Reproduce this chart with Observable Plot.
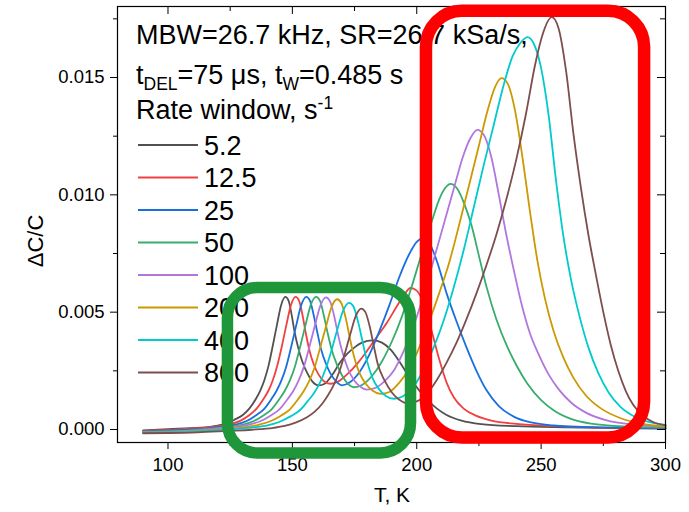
<!DOCTYPE html>
<html>
<head>
<meta charset="utf-8">
<script src="https://cdn.jsdelivr.net/npm/d3@7"></script>
<script src="https://cdn.jsdelivr.net/npm/@observablehq/plot@0.6"></script>
<style>
  body { margin: 0; background: #fff; }
  #chart { width: 689px; height: 512px; }
</style>
</head>
<body>
<div id="chart"></div>
<script>
// DLTS spectra ΔC/C(T) for eight rate windows (s^-1)
const rateWindows = ["5.2", "12.5", "25", "50", "100", "200", "400", "800"];
const lineColors = ["#515151", "#F14040", "#1A6FDF", "#37AD6B", "#B177DE", "#CC9900", "#00CBCC", "#7D4E4E"];

// [T (K), ΔC/C] samples per rate window
const rw5_2 = [[90,-0.00004],[100,0.00002],[107,0.00005],[113.2,0.00008],[120,0.00017],[123.4,0.00025],[126.8,0.00042],[130.2,0.00063],[132.75,0.0009],[135.3,0.0013],[137,0.00164],[138.7,0.00209],[140.4,0.00271],[142.1,0.00356],[143.8,0.00446],[145.5,0.00531],[147.2,0.00565],[148.5,0.00548],[149.75,0.00486],[151,0.0041],[152.3,0.0035],[154,0.0029],[156,0.0024],[158,0.00205],[160.6,0.00188],[163,0.00195],[166,0.00232],[169,0.00283],[172,0.00322],[175,0.0035],[178,0.0037],[182.3,0.0038],[186,0.0037],[189.5,0.0034],[193,0.0029],[196,0.0024],[200,0.0018],[204,0.00128],[208,0.0009],[212,0.00062],[218,0.00038],[226,0.00023],[240,0.00014],[260,0.00009],[280,0.00006],[300,0.00004]];
const rw12_5 = [[90,-0.00006],[100,-0.00002],[107,0.00003],[114.5,0.00007],[121.9,0.00016],[125.5,0.00024],[129.2,0.00038],[132.9,0.00063],[135.7,0.0009],[138.4,0.0013],[140.3,0.00164],[142.1,0.00209],[143.9,0.00271],[145.8,0.00356],[147.6,0.00446],[149.46,0.00531],[151.3,0.00565],[152.7,0.00548],[154.1,0.00486],[155.4,0.0041],[156.8,0.0034],[158.5,0.0028],[160.5,0.00235],[162.8,0.00205],[165.5,0.00195],[168.5,0.00205],[172,0.00235],[176,0.0028],[180,0.00335],[184,0.00395],[188,0.00455],[192,0.00525],[195,0.00575],[197.5,0.00603],[200,0.00592],[203,0.0053],[206,0.0042],[209,0.003],[212,0.002],[215,0.00135],[219,0.00088],[224,0.00058],[230,0.00038],[240,0.00024],[255,0.00014],[275,0.00008],[300,0.00005]];
const rw25 = [[90,-0.00008],[100,-0.00005],[108,-0.00001],[115.6,0.00005],[123.6,0.00014],[127.6,0.00022],[131.6,0.00036],[135.6,0.00062],[138.6,0.00087],[141.6,0.0013],[143.6,0.00164],[145.6,0.00209],[147.6,0.00271],[149.6,0.00356],[151.6,0.00446],[153.6,0.00531],[155.6,0.00565],[157.1,0.00548],[158.6,0.00486],[160.1,0.0041],[161.6,0.0034],[163.5,0.0028],[165.5,0.00235],[167.8,0.00203],[170,0.00188],[173,0.002],[177,0.00245],[181,0.0032],[185,0.0042],[189,0.0053],[193,0.0065],[197,0.00748],[200,0.008],[202.3,0.00813],[205,0.00795],[208,0.0072],[212,0.0058],[216,0.0046],[220,0.0035],[224,0.0025],[228,0.00168],[233,0.001],[239,0.00055],[246,0.0003],[255,0.00017],[270,0.0001],[300,0.00006]];
const rw50 = [[90,-0.0001],[100,-0.00008],[109,-0.00004],[117.5,0.00004],[125.9,0.00013],[130.1,0.00021],[134.3,0.00035],[138.5,0.00061],[141.65,0.00086],[144.8,0.0013],[146.9,0.00164],[149,0.00209],[151.1,0.00271],[153.2,0.00356],[155.3,0.00446],[157.4,0.00531],[159.5,0.00565],[161.1,0.00548],[162.65,0.00486],[164.2,0.0041],[165.8,0.0034],[167.8,0.0028],[170,0.0023],[172.3,0.00195],[174.7,0.0018],[178,0.0019],[182,0.00228],[186,0.0029],[190,0.00375],[194,0.0048],[198,0.0061],[202,0.0075],[206,0.00885],[209,0.0098],[211.5,0.0103],[213.6,0.01047],[216,0.0103],[219,0.00965],[222,0.0087],[225,0.0074],[228,0.0061],[232,0.0047],[236.5,0.0035],[240,0.00275],[244.5,0.00195],[250,0.00125],[255,0.00082],[262,0.00045],[270,0.00025],[285,0.00012],[300,0.00008]];
const rw100 = [[90,-0.0001],[100,-0.00009],[110,-0.00005],[119.5,0.00004],[128.3,0.00013],[132.7,0.00021],[137.1,0.00035],[141.5,0.00061],[144.8,0.00086],[148.1,0.0013],[150.3,0.00163],[152.5,0.00208],[154.7,0.0027],[156.9,0.00355],[159.1,0.00445],[161.3,0.00529],[163.5,0.00563],[165.15,0.00546],[166.8,0.00484],[168.45,0.004],[170.1,0.0033],[172.3,0.0026],[174.8,0.0021],[177.3,0.00182],[180,0.0017],[183.5,0.00178],[187,0.00205],[191,0.00255],[195,0.0034],[199,0.0045],[203,0.0058],[207,0.0073],[211,0.0088],[215,0.0103],[218.5,0.0116],[221.5,0.0124],[224.4,0.01277],[227,0.01255],[230,0.0116],[233,0.01],[236,0.0083],[239,0.0068],[242,0.0054],[245.5,0.0041],[249,0.0032],[253,0.00235],[257,0.00172],[262,0.00115],[268,0.00072],[276,0.0004],[288,0.0002],[300,0.00012]];
const rw200 = [[90,-0.00012],[100,-0.00011],[111,-0.00007],[122.8,0.00003],[131.8,0.00011],[136.4,0.0002],[140.9,0.00034],[145.4,0.00059],[148.8,0.00084],[152.2,0.00128],[154.4,0.00161],[156.7,0.00205],[159,0.00266],[161.2,0.0035],[163.5,0.00438],[165.74,0.00522],[168,0.00555],[169.7,0.00538],[171.4,0.00477],[173.1,0.0039],[174.8,0.0031],[177,0.0024],[179.5,0.00195],[182.3,0.00165],[185.5,0.00152],[189,0.0016],[193,0.002],[197,0.0026],[201,0.0035],[205,0.0046],[209,0.0058],[213,0.0071],[217,0.0087],[221,0.0104],[225,0.0121],[228.5,0.0136],[231.5,0.0146],[234.1,0.01497],[236.5,0.01475],[239.5,0.0136],[242.5,0.0116],[245.5,0.0093],[248.5,0.0072],[251.5,0.0056],[255,0.0042],[259,0.00305],[263,0.0022],[268,0.00145],[274,0.0009],[282,0.00048],[292,0.00022],[300,0.00014]];
const rw400 = [[90,-0.00013],[100,-0.00012],[113,-0.00008],[126,0.00002],[135.4,0.0001],[140,0.00018],[144.7,0.00032],[149.4,0.00057],[152.9,0.00081],[156.4,0.00124],[158.8,0.00157],[161.1,0.002],[163.4,0.00259],[165.8,0.0034],[168.1,0.00427],[170.46,0.00508],[172.8,0.0054],[174.56,0.00524],[176.3,0.00464],[178.1,0.0038],[179.8,0.003],[182.2,0.0022],[184.8,0.00172],[187.6,0.00143],[190.8,0.00131],[194.5,0.00142],[198.5,0.0018],[203,0.0026],[207,0.00355],[211,0.0047],[215,0.0061],[219,0.0077],[223,0.0095],[227,0.0113],[231,0.013],[235,0.0147],[238.5,0.0159],[241.5,0.01645],[244.5,0.01672],[247,0.01645],[250,0.0154],[253,0.0134],[256,0.0106],[259,0.0082],[262,0.0064],[265.5,0.0048],[269,0.0035],[273,0.0024],[277,0.0016],[282,0.00095],[288,0.00052],[295,0.00028],[300,0.0002]];
const rw800 = [[90,-0.00016],[100,-0.00015],[112,-0.00012],[124,-0.00006],[133.7,-0.00001],[142.5,0.00007],[146.9,0.00015],[151.3,0.00029],[155.7,0.00051],[159,0.00076],[162.3,0.00114],[164.5,0.00149],[166.7,0.00191],[168.9,0.00247],[171.1,0.00324],[173.3,0.00407],[175.5,0.00484],[177.7,0.00515],[179.35,0.005],[181,0.00443],[182.65,0.0036],[184.3,0.0028],[187,0.0021],[190,0.00158],[193,0.00127],[196.2,0.00112],[200,0.0012],[204,0.00152],[208,0.0021],[212,0.00285],[216,0.0037],[220,0.0047],[224,0.0058],[228,0.007],[232,0.0083],[236,0.0098],[240,0.0115],[244,0.0135],[247.5,0.0155],[250.5,0.0168],[254.3,0.01757],[257,0.0171],[260,0.0153],[263,0.0126],[266,0.0103],[269,0.0083],[272,0.0066],[275,0.005],[278,0.0036],[281,0.0025],[284,0.00165],[287,0.00105],[291,0.00058],[295,0.00032],[300,0.00018]];
const spectra = [rw5_2, rw12_5, rw25, rw50, rw100, rw200, rw400, rw800];

// axis ticks
const xTicks = [100, 150, 200, 250, 300];
const xMinorTicks = [125, 175, 225, 275];
const yTicks = [0, 0.005, 0.010, 0.015];
const yMinorTicks = [0.0025, 0.0075, 0.0125, 0.0175];

// text
const xLabel = "T, K";
const yLabel = "ΔC/C";
const headerLine1 = "MBW=26.7 kHz, SR=26.7 kSa/s,";
const headerLine2 = [["t", ""], ["DEL", "sub"], ["=75 μs, t", ""], ["W", "sub"], ["=0.485 s", ""]];
const headerLine3 = [["Rate window, s", ""], ["-1", "sup"]];

// highlighted regions: temperature span and ΔC/C span
const highlightT = [[124.1, 197.7], [203.9, 291.6]];
const highlightV = [[-0.00102, 0.00603], [-0.00036, 0.01782]];
const highlightColors = ["#1E9639", "#FF0000"];

const rows = spectra.flatMap((pts, i) => pts.map(([T, v]) => ({T, v, rw: rateWindows[i]})));

const W = 689, H = 512;
const margin = {top: 6, right: 24, bottom: 70, left: 117};
const frameW = W - margin.left - margin.right;
const frameH = H - margin.top - margin.bottom;
const fontFamily = "'Liberation Sans', Arial, Helvetica, sans-serif";

const chart = Plot.plot({
  width: W,
  height: H,
  marginTop: margin.top,
  marginRight: margin.right,
  marginBottom: margin.bottom,
  marginLeft: margin.left,
  style: {fontFamily, background: "#fff", color: "#000", overflow: "visible"},
  x: {domain: [79.7, 300]},
  y: {domain: [-0.000554, 0.018026]},
  color: {type: "ordinal", domain: rateWindows, range: lineColors},
  marks: [
    Plot.line(rows, {x: "T", y: "v", z: "rw", stroke: "rw", strokeWidth: 1.8, curve: "monotone-x"}),
    Plot.frame({stroke: "#000", strokeWidth: 1.2}),
    Plot.axisY(yTicks, {anchor: "left", tickSize: 7, tickPadding: 6, tickFormat: d3.format(".3f"), fontSize: 18.5, label: null}),
    Plot.axisY(yMinorTicks, {anchor: "left", tickSize: 4, tickFormat: () => "", label: null}),
    Plot.axisX(xTicks, {anchor: "bottom", tickSize: 7, tickPadding: 8, fontSize: 18.5, label: null}),
    Plot.axisX(xMinorTicks, {anchor: "bottom", tickSize: 4, tickFormat: () => "", label: null}),
    // mirrored inward ticks on the right and top edges
    Plot.tickY(yTicks, {y: d => d, insetLeft: frameW - 8, stroke: "#000"}),
    Plot.tickY(yMinorTicks, {y: d => d, insetLeft: frameW - 5, stroke: "#000"}),
    Plot.tickX(xTicks, {x: d => d, insetBottom: frameH - 8, stroke: "#000"}),
    Plot.tickX(xMinorTicks, {x: d => d, insetBottom: frameH - 5, stroke: "#000"}),
    ...highlightColors.map((color, i) => Plot.rect([i], {
      x1: j => highlightT[j][0], x2: j => highlightT[j][1],
      y1: j => highlightV[j][0], y2: j => highlightV[j][1],
      fill: "none", stroke: color, strokeWidth: i === 0 ? 11.5 : 12.5, rx: i === 0 ? 30 : 36
    }))
  ]
});

document.getElementById("chart").appendChild(chart);

const svgNS = "http://www.w3.org/2000/svg";

// axis titles
const titles = d3.select(chart).append("g")
  .attr("font-family", fontFamily)
  .attr("fill", "#000")
  .attr("text-anchor", "middle");
titles.append("text")
  .attr("transform", "translate(43,241) rotate(-90)")
  .attr("font-size", 22)
  .text(yLabel);
titles.append("text")
  .attr("x", 392).attr("y", 502)
  .attr("font-size", 21)
  .text(xLabel);

// in-frame legend, placed beneath the highlight boxes
const legendNode = document.createElementNS(svgNS, "g");
const firstRect = chart.querySelector('g[aria-label="rect"]');
chart.insertBefore(legendNode, firstRect);
const legend = d3.select(legendNode)
  .attr("font-family", fontFamily)
  .attr("font-size", 27)
  .attr("text-anchor", "start")
  .attr("fill", "#000");

function richLine(parts, x, y) {
  const t = legend.append("text").attr("x", x).attr("y", y);
  let shift = 0;
  for (const [s, kind] of parts) {
    const target = kind === "sub" ? 6 : kind === "sup" ? -10 : 0;
    const span = t.append("tspan").attr("dy", target - shift).text(s);
    if (kind) span.attr("font-size", 17.5);
    shift = target;
  }
  return t;
}

legend.append("text").attr("x", 136).attr("y", 44).text(headerLine1);
richLine(headerLine2, 136, 84);
richLine(headerLine3, 136, 119);

rateWindows.forEach((rw, i) => {
  const yLine = 145 + i * 32.5;
  legend.append("line")
    .attr("x1", 138).attr("x2", 198)
    .attr("y1", yLine).attr("y2", yLine)
    .attr("stroke", lineColors[i]).attr("stroke-width", 2);
  legend.append("text").attr("x", 204).attr("y", yLine + 9.5).text(rw);
});
</script>
</body>
</html>
